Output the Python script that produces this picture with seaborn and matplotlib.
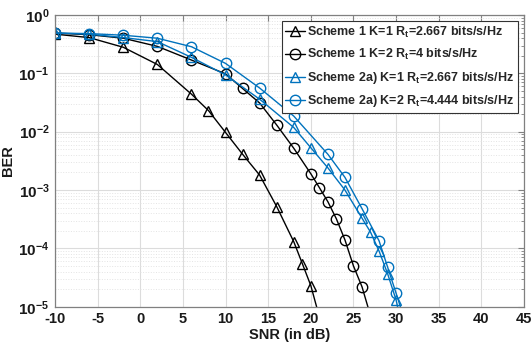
import matplotlib
matplotlib.use("Agg")
import matplotlib.pyplot as plt
from matplotlib.ticker import LogLocator, FixedLocator, NullFormatter
import numpy as np
import pandas as pd
import seaborn as sns

# SNR grids and BER values for each scheme
snr_s1_k1 = [-10, -6, -2, 2, 6, 8, 10, 12, 14, 16, 18, 19, 20, 21]
ber_s1_k1 = [0.47, 0.41, 0.28, 0.142, 0.044, 0.023, 0.0097, 0.0041, 0.0018,
             5.2e-4, 1.3e-4, 5.5e-5, 2.3e-5, 6.7e-6]

snr_s1_k2 = [-10, -6, -2, 2, 6, 10, 12, 14, 16, 18, 20, 21, 22, 23, 24, 25, 26, 27]
ber_s1_k2 = [0.49, 0.46, 0.40, 0.29, 0.169, 0.098, 0.055, 0.031, 0.013, 0.0052,
             0.0019, 0.0011, 6.3e-4, 3.2e-4, 1.4e-4, 5.0e-5, 2.2e-5, 7.0e-6]

snr_s2_k1 = [-10, -6, -2, 2, 6, 10, 14, 18, 20, 22, 24, 26, 27, 28, 29, 30, 31]
ber_s2_k1 = [0.49, 0.47, 0.41, 0.35, 0.188, 0.094, 0.036, 0.0118, 0.0053, 0.0024,
             1.0e-3, 3.3e-4, 1.9e-4, 9.0e-5, 3.7e-5, 1.3e-5, 3.0e-6]

snr_s2_k2 = [-10, -6, -2, 2, 6, 10, 14, 18, 22, 24, 26, 28, 29, 30, 31]
ber_s2_k2 = [0.49, 0.48, 0.45, 0.40, 0.286, 0.148, 0.056, 0.0185, 0.0041, 0.00165,
             4.8e-4, 1.35e-4, 4.8e-5, 1.7e-5, 5.9e-6]

labels = [
    r"Scheme 1 K=1 R$_\mathbf{t}$=2.667 bits/s/Hz",
    r"Scheme 1 K=2 R$_\mathbf{t}$=4 bits/s/Hz",
    r"Scheme 2a) K=1 R$_\mathbf{t}$=2.667 bits/s/Hz",
    r"Scheme 2a) K=2 R$_\mathbf{t}$=4.444 bits/s/Hz",
]

x_ticks = [-10, -5, 0, 5, 10, 15, 20, 25, 30, 35, 40, 45]
y_exponents = [0, -1, -2, -3, -4, -5]

sns.set_theme(style="white")
plt.rcParams["font.family"] = ["Liberation Sans", "DejaVu Sans"]
plt.rcParams["mathtext.fontset"] = "custom"
plt.rcParams["mathtext.rm"] = "Liberation Sans"
plt.rcParams["mathtext.bf"] = "Liberation Sans:bold"
plt.rcParams["mathtext.it"] = "Liberation Sans:italic"

black = "#000000"
blue = "#0072BD"

series = [
    (snr_s1_k1, ber_s1_k1, black, "^"),
    (snr_s1_k2, ber_s1_k2, black, "o"),
    (snr_s2_k1, ber_s2_k1, blue, "^"),
    (snr_s2_k2, ber_s2_k2, blue, "o"),
]

fig = plt.figure(figsize=(5.32, 3.45), dpi=100)
ax = fig.add_axes([55 / 532, 1 - 306.7 / 345, (524 - 55) / 532, (306.7 - 15) / 345])

for (x, y, c, m), lab in zip(series, labels):
    df = pd.DataFrame({"SNR": x, "BER": y})
    sns.lineplot(data=df, x="SNR", y="BER", ax=ax, color=c, marker=m,
                 markersize=7.5, markerfacecolor="none", markeredgecolor=c,
                 markeredgewidth=1.0, linewidth=1.0, label=lab, clip_on=True)

ax.set_yscale("log")
ax.set_xlim(-10, 45)
ax.set_ylim(1e-5, 1)

ax.xaxis.set_major_locator(FixedLocator(x_ticks))
ax.set_xticklabels([str(t) for t in x_ticks], fontweight="bold", fontsize=10.5)
ax.yaxis.set_major_locator(FixedLocator([10.0 ** e for e in y_exponents]))
ax.set_yticklabels([r"$\mathbf{10^{%d}}$" % e for e in y_exponents], fontsize=11)
ax.yaxis.set_minor_locator(LogLocator(base=10, subs=np.arange(2, 10), numticks=20))
ax.yaxis.set_minor_formatter(NullFormatter())

ax.grid(True, which="major", color="#dcdcdc", linewidth=0.8, linestyle="-")
ax.grid(True, which="minor", axis="y", color="#e4e4e4", linewidth=0.7, linestyle=":")

ax.tick_params(which="both", direction="in", top=True, right=True,
               colors="#808080", labelcolor="#1a1a1a")
ax.tick_params(which="major", length=4, width=0.8, pad=4)
ax.tick_params(which="minor", length=2, width=0.6)
for sp in ax.spines.values():
    sp.set_color("#808080")
    sp.set_linewidth(0.9)

ax.set_xlabel("SNR (in dB)", fontweight="bold", fontsize=10.5, labelpad=1, color="#1a1a1a")
ax.set_ylabel("BER", fontweight="bold", fontsize=10.5, labelpad=2, color="#1a1a1a")

leg = ax.legend(loc="upper right", bbox_to_anchor=(1 - 6 / 469, 1 - 6 / 291.7),
                prop={"weight": "bold", "size": 9.0}, frameon=True, fancybox=False,
                handlelength=1.6, handletextpad=0.15, borderpad=0.3,
                labelspacing=0.6, borderaxespad=0.0)
leg.get_frame().set_edgecolor("#333333")
leg.get_frame().set_linewidth(0.8)
leg.get_frame().set_alpha(1.0)

fig.savefig("out.png", dpi=100)
